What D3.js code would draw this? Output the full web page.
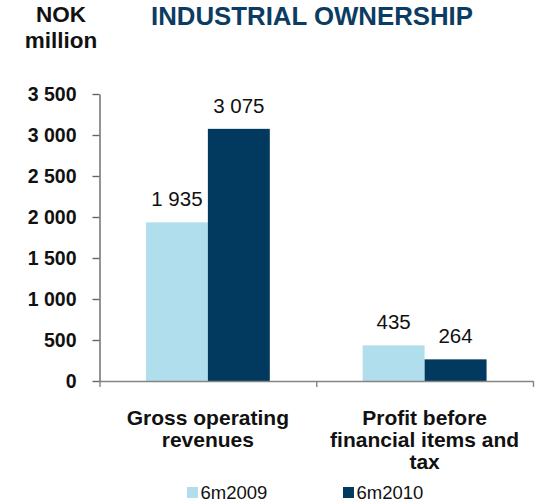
<!DOCTYPE html>
<html>
<head>
<meta charset="utf-8">
<script src="https://cdn.jsdelivr.net/npm/d3@7/dist/d3.min.js"></script>
<style>
  html, body { margin: 0; padding: 0; background: #fff; }
  svg { display: block; font-family: Arial, "Liberation Sans", sans-serif; }
</style>
</head>
<body>
<svg id="chart" width="537" height="504"></svg>
<script>
// Chart data
const categories = [
  ["Gross operating", "revenues"],
  ["Profit before", "financial items and", "tax"]
];
const seriesNames = ["6m2009", "6m2010"];
const values2009 = [1935, 435];
const values2010 = [3075, 264];
const yTicks = [0, 500, 1000, 1500, 2000, 2500, 3000, 3500];
const colors = ["#b1deec", "#02395e"];

const svg = d3.select("#chart");
const fmt = v => d3.format(",")(v).replace(/,/g, " ");

const plot = { left: 99.5, right: 533, top: 94, bottom: 381 };

const x0 = d3.scaleBand()
  .domain(d3.range(categories.length))
  .range([plot.left, plot.right])
  .padding(0);
const x1 = d3.scaleBand()
  .domain(seriesNames)
  .range([0, x0.bandwidth()])
  .paddingInner(0)
  .paddingOuter(0.75);
const y = d3.scaleLinear().domain([0, 3500]).range([plot.bottom, plot.top]);
// Category boundaries, used for the x-axis tick marks
const xEdges = d3.scaleLinear().domain([0, categories.length]).range([plot.left, plot.right]);

const rows = categories.map((c, i) => ({
  i,
  vals: [
    { s: seriesNames[0], v: values2009[i], c: colors[0] },
    { s: seriesNames[1], v: values2010[i], c: colors[1] }
  ]
}));

// Bars
const groups = svg.append("g").selectAll("g").data(rows).join("g")
  .attr("transform", d => `translate(${x0(d.i)},0)`);
groups.selectAll("rect").data(d => d.vals).join("rect")
  .attr("x", d => x1(d.s))
  .attr("width", x1.bandwidth())
  .attr("y", d => y(d.v))
  .attr("height", d => y(0) - y(d.v))
  .attr("fill", d => d.c);

// Value labels
groups.selectAll("text.val").data(d => d.vals).join("text")
  .attr("class", "val")
  .attr("x", d => x1(d.s) + x1.bandwidth() / 2)
  .attr("y", d => y(d.v) - 16)
  .attr("text-anchor", "middle")
  .attr("font-size", "20.5px")
  .attr("fill", "#111")
  .text(d => fmt(d.v));

// X axis baseline with ticks at category boundaries
const xAxis = d3.axisBottom(xEdges).tickValues(d3.range(categories.length + 1)).tickSize(6).tickFormat("").tickSizeOuter(0);
const gx = svg.append("g").attr("transform", `translate(0,${plot.bottom})`).call(xAxis);
gx.select(".domain").attr("stroke", "#858585").attr("stroke-width", 1.4);
gx.selectAll(".tick line").attr("stroke", "#858585").attr("stroke-width", 1.4);

// Y axis
const yAxis = d3.axisLeft(y).tickValues(yTicks).tickFormat(fmt).tickSize(7).tickPadding(16).tickSizeOuter(0);
const gy = svg.append("g").attr("transform", `translate(${plot.left},0)`).call(yAxis);
gy.select(".domain").attr("stroke", "#666").attr("stroke-width", 1.4);
gy.selectAll(".tick line").attr("stroke", "#666").attr("stroke-width", 1.4);
gy.selectAll(".tick text")
  .attr("font-family", "Arial, 'Liberation Sans', sans-serif")
  .attr("font-size", "19.5px")
  .attr("font-weight", "bold")
  .attr("fill", "#111");

// Category labels
const catG = svg.append("g");
categories.forEach((lines, i) => {
  const t = catG.append("text")
    .attr("text-anchor", "middle")
    .attr("font-size", "21px")
    .attr("font-weight", "bold")
    .attr("fill", "#111");
  lines.forEach((ln, k) => {
    t.append("tspan")
      .attr("x", x0(i) + x0.bandwidth() / 2)
      .attr("y", 425 + k * 22)
      .text(ln);
  });
});

// Unit label
const unit = svg.append("text")
  .attr("text-anchor", "middle")
  .attr("font-size", "22.5px")
  .attr("font-weight", "bold")
  .attr("fill", "#111");
unit.append("tspan").attr("x", 61).attr("y", 22).text("NOK");
unit.append("tspan").attr("x", 61).attr("y", 48).text("million");

// Title
svg.append("text")
  .attr("x", 312)
  .attr("y", 25)
  .attr("text-anchor", "middle")
  .attr("font-size", "25.8px")
  .attr("font-weight", "bold")
  .attr("fill", "#0c3c61")
  .text("INDUSTRIAL OWNERSHIP");

// Legend
const legendX = [187, 343];
const leg = svg.append("g").selectAll("g").data(seriesNames).join("g")
  .attr("transform", (d, i) => `translate(${legendX[i]},487)`);
leg.append("rect").attr("width", 11).attr("height", 11)
  .attr("fill", (d, i) => colors[i]);
leg.append("text")
  .attr("x", 13.5)
  .attr("y", 12)
  .attr("font-size", "18.5px")
  .attr("fill", "#111")
  .text(d => d);
</script>
</body>
</html>
